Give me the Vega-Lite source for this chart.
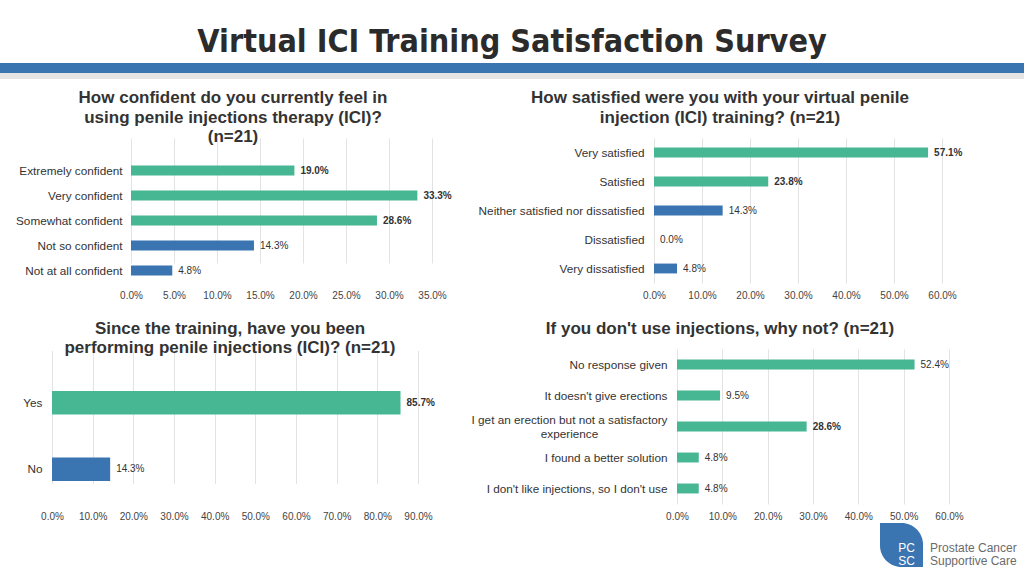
{
  "$schema": "https://vega.github.io/schema/vega-lite/v6.json",
  "padding": {"top": 26, "bottom": 0, "left": 0, "right": 0},
  "background": "white",
  "spacing": 2,
  "align": "none",
  "config": {
    "view": {"stroke": null},
    "font": "Liberation Sans",
    "title": {"font": "Liberation Sans", "fontSize": 17, "fontWeight": "bold", "color": "#333333", "anchor": "middle", "lineHeight": 19.5},
    "axis": {"labelFont": "Liberation Sans", "domain": false, "ticks": false, "tickSize": 0, "title": null, "gridColor": "#E3E3E3", "gridWidth": 1, "labelFlush": false, "labelOverlap": false},
    "axisX": {"grid": true, "labelFontSize": 10, "labelColor": "#444444", "labelPadding": 7, "format": ".1%"},
    "axisY": {"grid": false, "labelFontSize": 11.75, "labelColor": "#333333", "labelLimit": 300},
    "text": {"font": "Liberation Sans", "fontSize": 10, "color": "#333333"}
  },
  "vconcat": [
    {
      "width": 1024,
      "height": 24,
      "title": {"text": "Virtual ICI Training Satisfaction Survey", "font": "Liberation Sans Narrow, DejaVu Sans Condensed, Liberation Sans", "fontSize": 32, "fontWeight": "bold", "color": "#2B2B2B", "anchor": "middle", "offset": 4},
      "layer": [
        {
          "data": {"values": [{"stripe": "band"}]},
          "mark": {"type": "rect", "color": "#3A74B1"},
          "encoding": {"y": {"field": "stripe", "type": "nominal", "scale": {"range": [0, 10], "paddingInner": 0, "paddingOuter": 0}, "axis": null}}
        },
        {
          "data": {"values": [{"stripe": "shadow"}]},
          "mark": {"type": "rect", "color": "#E4E4E4"},
          "encoding": {"y": {"field": "stripe", "type": "nominal", "scale": {"range": [10, 16], "paddingInner": 0, "paddingOuter": 0}, "axis": null}}
        }
      ],
      "resolve": {"scale": {"y": "independent"}}
    },
    {
      "columns": 2,
      "bounds": "flush",
      "align": "each",
      "spacing": {"row": 66, "column": 0},
      "concat": [
        {
          "width": 466,
          "height": 145,
          "title": {"text": ["How confident do you currently feel in", "using penile injections therapy (ICI)?", "(n=21)"], "offset": -8},
          "data": {"values": [
            {"answer": "Extremely confident", "pct": 0.190, "tone": "positive"},
            {"answer": "Very confident", "pct": 0.333, "tone": "positive"},
            {"answer": "Somewhat confident", "pct": 0.286, "tone": "positive"},
            {"answer": "Not so confident", "pct": 0.143, "tone": "negative"},
            {"answer": "Not at all confident", "pct": 0.048, "tone": "negative"}
          ]},
          "encoding": {
            "y": {"field": "answer", "type": "nominal", "sort": null, "scale": {"range": [20, 145], "paddingInner": 0.6, "paddingOuter": 0.3}, "axis": {"offset": -131, "labelPadding": 9}},
            "x": {"field": "pct", "type": "quantitative", "scale": {"domain": [0, 0.35], "range": [131, 432], "nice": false}, "axis": {"values": [0, 0.05, 0.1, 0.15, 0.2, 0.25, 0.3, 0.35]}}
          },
          "layer": [
            {"mark": {"type": "bar"}, "encoding": {"color": {"field": "tone", "type": "nominal", "scale": {"domain": ["positive", "negative"], "range": ["#46B693", "#3A74B1"]}, "legend": null}}},
            {"transform": [{"filter": "datum.pct > 0.15"}], "mark": {"type": "text", "align": "left", "dx": 6, "fontWeight": "bold"}, "encoding": {"text": {"field": "pct", "type": "quantitative", "format": ".1%"}}},
            {"transform": [{"filter": "datum.pct <= 0.15"}], "mark": {"type": "text", "align": "left", "dx": 6}, "encoding": {"text": {"field": "pct", "type": "quantitative", "format": ".1%"}}}
          ]
        },
        {
          "width": 508,
          "height": 145,
          "title": {"text": ["How satisfied were you with your virtual penile", "injection (ICI) training? (n=21)"], "offset": 11.5},
          "data": {"values": [
            {"answer": "Very satisfied", "pct": 0.571, "tone": "positive"},
            {"answer": "Satisfied", "pct": 0.238, "tone": "positive"},
            {"answer": "Neither satisfied nor dissatisfied", "pct": 0.143, "tone": "negative"},
            {"answer": "Dissatisfied", "pct": 0.0, "tone": "negative"},
            {"answer": "Very dissatisfied", "pct": 0.048, "tone": "negative"}
          ]},
          "encoding": {
            "y": {"field": "answer", "type": "nominal", "sort": null, "scale": {"paddingInner": 0.66, "paddingOuter": 0.33}, "axis": {"offset": -188, "labelPadding": 10}},
            "x": {"field": "pct", "type": "quantitative", "scale": {"domain": [0, 0.6], "range": [188, 476], "nice": false}, "axis": {"values": [0, 0.1, 0.2, 0.3, 0.4, 0.5, 0.6]}}
          },
          "layer": [
            {"mark": {"type": "bar"}, "encoding": {"color": {"field": "tone", "type": "nominal", "scale": {"domain": ["positive", "negative"], "range": ["#46B693", "#3A74B1"]}, "legend": null}}},
            {"transform": [{"filter": "datum.pct > 0.15"}], "mark": {"type": "text", "align": "left", "dx": 6, "fontWeight": "bold"}, "encoding": {"text": {"field": "pct", "type": "quantitative", "format": ".1%"}}},
            {"transform": [{"filter": "datum.pct <= 0.15"}], "mark": {"type": "text", "align": "left", "dx": 6}, "encoding": {"text": {"field": "pct", "type": "quantitative", "format": ".1%"}}}
          ]
        },
        {
          "width": 460,
          "height": 155,
          "title": {"text": ["Since the training, have you been", "performing penile injections (ICI)? (n=21)"], "offset": -8},
          "data": {"values": [
            {"answer": "Yes", "pct": 0.857, "tone": "positive"},
            {"answer": "No", "pct": 0.143, "tone": "negative"}
          ]},
          "encoding": {
            "y": {"field": "answer", "type": "nominal", "sort": null, "scale": {"range": [20.5, 153.5], "paddingInner": 0.65, "paddingOuter": 0.325}, "axis": {"offset": -52, "labelPadding": 10}},
            "x": {"field": "pct", "type": "quantitative", "scale": {"domain": [0, 0.9], "range": [52, 418], "nice": false}, "axis": {"values": [0, 0.1, 0.2, 0.3, 0.4, 0.5, 0.6, 0.7, 0.8, 0.9]}}
          },
          "layer": [
            {"mark": {"type": "bar"}, "encoding": {"color": {"field": "tone", "type": "nominal", "scale": {"domain": ["positive", "negative"], "range": ["#46B693", "#3A74B1"]}, "legend": null}}},
            {"transform": [{"filter": "datum.pct > 0.5"}], "mark": {"type": "text", "align": "left", "dx": 6, "fontWeight": "bold"}, "encoding": {"text": {"field": "pct", "type": "quantitative", "format": ".1%"}}},
            {"transform": [{"filter": "datum.pct <= 0.5"}], "mark": {"type": "text", "align": "left", "dx": 6}, "encoding": {"text": {"field": "pct", "type": "quantitative", "format": ".1%"}}}
          ]
        },
        {
          "width": 508,
          "height": 155,
          "title": {"text": "If you don't use injections, why not? (n=21)", "offset": 11.5},
          "data": {"values": [
            {"answer": "No response given", "pct": 0.524, "tone": "positive"},
            {"answer": "It doesn't give erections", "pct": 0.095, "tone": "positive"},
            {"answer": "I get an erection but not a satisfactory experience", "pct": 0.286, "tone": "positive"},
            {"answer": "I found a better solution", "pct": 0.048, "tone": "positive"},
            {"answer": "I don't like injections, so I don't use", "pct": 0.048, "tone": "positive"}
          ]},
          "encoding": {
            "y": {"field": "answer", "type": "nominal", "sort": null, "scale": {"paddingInner": 0.68, "paddingOuter": 0.34}, "axis": {
              "offset": -211,
              "labelLineHeight": 14,
              "labelExpr": "datum.value == 'I get an erection but not a satisfactory experience' ? ['I get an erection but not a satisfactory', 'experience'] : datum.label",
              "labelAlign": {"condition": {"test": "datum.value == 'I get an erection but not a satisfactory experience'", "value": "center"}, "value": "right"},
              "labelPadding": {"condition": {"test": "datum.value == 'I get an erection but not a satisfactory experience'", "value": 108}, "value": 10},
              "labelOffset": {"condition": {"test": "datum.value == 'I get an erection but not a satisfactory experience'", "value": -7}, "value": 0}
            }},
            "x": {"field": "pct", "type": "quantitative", "scale": {"domain": [0, 0.6], "range": [211, 483], "nice": false}, "axis": {"values": [0, 0.1, 0.2, 0.3, 0.4, 0.5, 0.6]}}
          },
          "layer": [
            {"mark": {"type": "bar"}, "encoding": {"color": {"field": "tone", "type": "nominal", "scale": {"domain": ["positive", "negative"], "range": ["#46B693", "#3A74B1"]}, "legend": null}}},
            {"transform": [{"filter": "datum.pct > 0.2 && datum.pct < 0.3"}], "mark": {"type": "text", "align": "left", "dx": 6, "fontWeight": "bold"}, "encoding": {"text": {"field": "pct", "type": "quantitative", "format": ".1%"}}},
            {"transform": [{"filter": "!(datum.pct > 0.2 && datum.pct < 0.3)"}], "mark": {"type": "text", "align": "left", "dx": 6}, "encoding": {"text": {"field": "pct", "type": "quantitative", "format": ".1%"}}}
          ]
        }
      ]
    },
    {
      "width": 1024,
      "height": 44,
      "encoding": {
        "x": {"field": "part", "type": "nominal", "scale": {"domain": ["badge", "name"], "range": [880, 973], "paddingInner": 0.14, "paddingOuter": 0}, "axis": null}
      },
      "layer": [
        {
          "data": {"values": [{"part": "badge"}]},
          "mark": {"type": "rect", "color": "#3A74B1", "cornerRadiusTopRight": 22, "cornerRadiusBottomLeft": 22}
        },
        {
          "data": {"values": [{"part": "badge", "line": "1", "label": "PC"}, {"part": "badge", "line": "2", "label": "SC"}]},
          "mark": {"type": "text", "color": "white", "fontSize": 12, "dx": 5},
          "encoding": {
            "y": {"field": "line", "type": "nominal", "scale": {"domain": ["1", "2"], "range": [19, 44], "paddingInner": 0, "paddingOuter": 0}, "axis": null},
            "text": {"field": "label"}
          }
        },
        {
          "data": {"values": [{"part": "name", "line": "1", "label": "Prostate Cancer"}, {"part": "name", "line": "2", "label": "Supportive Care"}]},
          "mark": {"type": "text", "color": "#6B6B6B", "fontSize": 12, "align": "left"},
          "encoding": {
            "x": {"field": "part", "type": "nominal", "bandPosition": 0},
            "y": {"field": "line", "type": "nominal", "axis": null},
            "text": {"field": "label"}
          }
        }
      ]
    }
  ]
}
